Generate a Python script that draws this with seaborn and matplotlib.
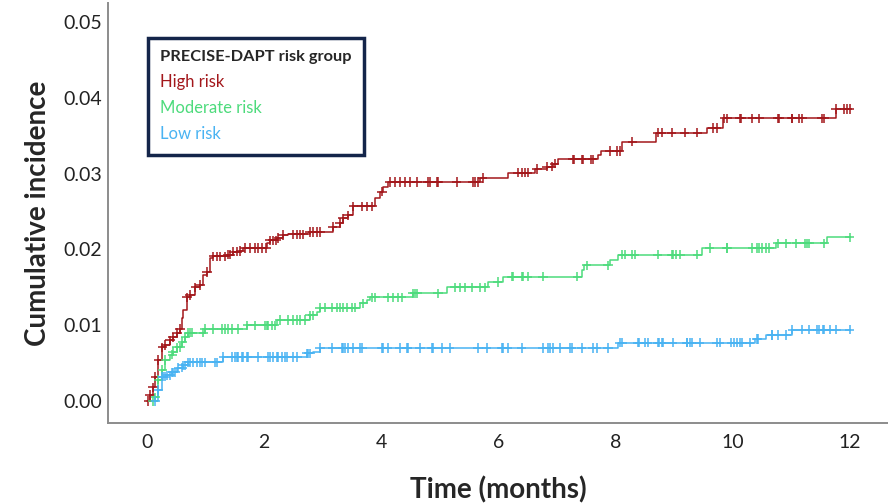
import numpy as np
import pandas as pd
import matplotlib
matplotlib.use("Agg")
import matplotlib.pyplot as plt
import seaborn as sns

# ------------------------------------------------------------------
# DATA (read off the reference Kaplan-Meier style cumulative incidence)
# ------------------------------------------------------------------
groups = ["High risk", "Moderate risk", "Low risk"]
colors = ["#a3171b", "#4ddb7c", "#49b3f2"]

high_t = [0, 0.05, 0.10, 0.14, 0.19, 0.26, 0.31, 0.39, 0.44, 0.51, 0.56, 0.60,
          0.61, 0.68, 0.73, 0.82, 0.90, 0.96, 1.02, 1.08, 1.13, 1.38, 1.47, 1.59,
          1.64, 2.05, 2.10, 2.22, 2.32, 2.41, 2.78, 3.17, 3.29, 3.34, 3.43, 3.52,
          3.89, 3.98, 4.03, 4.11, 5.68, 6.16, 6.62, 6.83, 6.93, 7.01, 7.70, 7.76,
          8.12, 8.70, 9.56, 9.83, 11.77, 12.0]
high_v = [0, 0.0008, 0.0018, 0.0032, 0.0054, 0.0071, 0.0074, 0.0080, 0.0084, 0.0090,
          0.0095, 0.0109, 0.0120, 0.0137, 0.0140, 0.0150, 0.0153, 0.0166, 0.0170,
          0.0189, 0.0191, 0.0193, 0.0197, 0.0198, 0.0202, 0.0208, 0.0212, 0.0215,
          0.0219, 0.0220, 0.0223, 0.0230, 0.0235, 0.0241, 0.0245, 0.0257, 0.0268,
          0.0276, 0.0282, 0.0289, 0.0294, 0.0301, 0.0306, 0.0309, 0.0313, 0.0319,
          0.0325, 0.0330, 0.0342, 0.0354, 0.0360, 0.0373, 0.0385, 0.0385]

mod_t = [0.07, 0.14, 0.19, 0.26, 0.31, 0.39, 0.44, 0.51, 0.60, 0.65, 0.70, 0.99,
         1.71, 2.22, 2.78, 2.90, 2.95, 3.63, 3.75, 3.81, 4.54, 5.12, 5.82, 6.08,
         7.42, 7.47, 7.90, 8.04, 9.47, 10.75, 11.62, 12.0]
mod_v = [0, 0.0005, 0.0028, 0.0041, 0.0054, 0.0061, 0.0065, 0.0071, 0.0078, 0.0084,
         0.0090, 0.0095, 0.0100, 0.0107, 0.0113, 0.0117, 0.0123, 0.0129, 0.0133,
         0.0137, 0.0142, 0.0150, 0.0157, 0.0164, 0.0173, 0.0179, 0.0186, 0.0193,
         0.0202, 0.0208, 0.0216, 0.0216]

low_t = [0.10, 0.19, 0.26, 0.34, 0.43, 0.51, 0.61, 0.70, 1.30, 2.73, 2.83, 2.95,
         8.04, 10.38, 10.58, 11.01, 12.0]
low_v = [0, 0.0015, 0.0032, 0.0034, 0.0038, 0.0044, 0.0047, 0.0051, 0.0058, 0.0063,
         0.0065, 0.0070, 0.0077, 0.0082, 0.0087, 0.0094, 0.0094]

# censoring times (the "+" ticks on each curve)
high_cens = [0.02, 0.05, 0.10, 0.14, 0.19, 0.26, 0.31, 0.39, 0.44, 0.51, 0.56, 0.68,
             0.73, 0.82, 0.90, 1.02, 1.13, 1.19, 1.25, 1.33, 1.38, 1.42, 1.47, 1.54,
             1.59, 1.67, 1.76, 1.84, 1.89, 1.96, 2.03, 2.10, 2.15, 2.20, 2.24, 2.32,
             2.49, 2.56, 2.61, 2.66, 2.78, 2.83, 2.90, 2.95, 3.17, 3.29, 3.34, 3.43,
             3.52, 3.67, 3.75, 3.84, 4.01, 4.15, 4.23, 4.32, 4.40, 4.49, 4.61, 4.80,
             4.83, 4.95, 4.97, 5.29, 5.56, 5.60, 5.65, 5.73, 6.33, 6.40, 6.45, 6.50,
             6.66, 6.83, 6.91, 6.96, 7.27, 7.30, 7.42, 7.44, 7.59, 7.61, 7.90, 8.02,
             8.07, 8.29, 8.72, 8.79, 8.96, 9.18, 9.40, 9.66, 9.73, 9.86, 9.91, 10.12,
             10.15, 10.34, 10.46, 10.77, 10.80, 11.01, 11.02, 11.14, 11.19, 11.52,
             11.57, 11.77, 11.91, 11.96, 12.0]
mod_cens = [0.10, 0.14, 0.19, 0.26, 0.31, 0.43, 0.44, 0.51, 0.56, 0.60, 0.65, 0.70,
            0.73, 0.77, 0.96, 0.99, 1.13, 1.28, 1.33, 1.38, 1.45, 1.55, 1.71, 1.84,
            2.01, 2.05, 2.06, 2.13, 2.18, 2.27, 2.41, 2.49, 2.56, 2.61, 2.70, 2.78,
            2.83, 2.95, 3.04, 3.16, 3.24, 3.29, 3.34, 3.41, 3.50, 3.55, 3.69, 3.84,
            3.89, 4.11, 4.20, 4.28, 4.35, 4.54, 4.57, 4.61, 4.97, 5.26, 5.34, 5.43,
            5.55, 5.68, 5.77, 5.99, 6.23, 6.25, 6.40, 6.42, 6.50, 6.76, 7.35, 7.51,
            7.87, 8.12, 8.16, 8.29, 8.33, 8.72, 8.96, 8.98, 9.04, 9.10, 9.40, 9.61,
            9.90, 9.91, 10.34, 10.41, 10.46, 10.51, 10.58, 10.63, 10.77, 10.92,
            11.09, 11.23, 11.28, 11.31, 11.57, 12.0]
low_cens = [0.14, 0.19, 0.26, 0.27, 0.31, 0.34, 0.39, 0.43, 0.44, 0.48, 0.53, 0.60,
            0.61, 0.65, 0.70, 0.73, 0.78, 0.85, 0.90, 0.94, 0.99, 1.16, 1.19, 1.30,
            1.45, 1.50, 1.54, 1.55, 1.62, 1.64, 1.71, 1.72, 1.89, 2.06, 2.10, 2.15,
            2.22, 2.24, 2.30, 2.35, 2.39, 2.49, 2.56, 2.73, 2.75, 2.78, 2.95, 3.16,
            3.33, 3.34, 3.38, 3.43, 3.52, 3.63, 3.67, 4.01, 4.03, 4.11, 4.32, 4.44,
            4.45, 4.66, 4.86, 4.88, 5.03, 5.17, 5.65, 5.80, 6.06, 6.08, 6.16, 6.40,
            6.76, 6.84, 6.88, 6.93, 7.05, 7.22, 7.25, 7.42, 7.61, 7.68, 7.87, 8.07,
            8.12, 8.38, 8.41, 8.50, 8.55, 8.72, 8.75, 8.79, 8.81, 8.98, 9.22, 9.23,
            9.27, 9.30, 9.44, 9.73, 9.78, 9.98, 10.03, 10.07, 10.12, 10.17, 10.29,
            10.41, 10.43, 10.67, 10.68, 10.77, 10.92, 11.02, 11.18, 11.31, 11.45,
            11.48, 11.54, 11.57, 11.66, 11.77, 12.0]

y_ticks = [0.00, 0.01, 0.02, 0.03, 0.04, 0.05]
x_ticks = [0, 2, 4, 6, 8, 10, 12]

# ------------------------------------------------------------------
# BUILD LONG TABLES
# ------------------------------------------------------------------
curves = pd.concat([
    pd.DataFrame({"time": t, "inc": v, "group": g})
    for t, v, g in [(high_t, high_v, groups[0]), (mod_t, mod_v, groups[1]), (low_t, low_v, groups[2])]
], ignore_index=True)


def step_value(times, vals, at):
    idx = np.searchsorted(np.asarray(times), np.asarray(at), side="right") - 1
    return np.asarray(vals)[np.clip(idx, 0, None)]


cens = pd.concat([
    pd.DataFrame({"time": c, "inc": step_value(t, v, c), "group": g})
    for t, v, c, g in [(high_t, high_v, high_cens, groups[0]),
                       (mod_t, mod_v, mod_cens, groups[1]),
                       (low_t, low_v, low_cens, groups[2])]
], ignore_index=True)

palette = dict(zip(groups, colors))

# ------------------------------------------------------------------
# PLOT
# ------------------------------------------------------------------
sns.set_theme(style="white")
plt.rcParams["font.family"] = ["Lato", "DejaVu Sans"]

fig = plt.figure(figsize=(8.88, 5.03), dpi=100)
ax = fig.add_axes([0.1216, 0.159, 0.878, 0.835])

sns.lineplot(data=curves, x="time", y="inc", hue="group", palette=palette,
             estimator=None, sort=False, drawstyle="steps-post", linewidth=1.1,
             legend=False, ax=ax)
sns.scatterplot(data=cens, x="time", y="inc", hue="group", palette=palette,
                marker="+", s=45, linewidth=1.1, legend=False, ax=ax, zorder=3)

ax.set_xlim(-0.67, 12.65)
ax.set_ylim(-0.0029, 0.0525)
ax.set_xticks(x_ticks)
ax.set_yticks(y_ticks)
ax.set_yticklabels([f"{v:.2f}" for v in y_ticks])
ax.tick_params(length=0, labelsize=14, labelcolor="#222222")
ax.tick_params(axis="x", pad=8)
ax.tick_params(axis="y", pad=4)

for side in ["top", "right"]:
    ax.spines[side].set_visible(False)
for side in ["left", "bottom"]:
    ax.spines[side].set_color("#8c8c8c")
    ax.spines[side].set_linewidth(1.4)

ax.set_xlabel("Time (months)", fontsize=20, fontweight="bold", labelpad=18)
ax.set_ylabel("Cumulative incidence", fontsize=20, fontweight="bold", labelpad=9)

# legend: text-only entries inside a navy box
handles = [plt.Line2D([], [], linestyle="none") for _ in groups]
leg = ax.legend(handles, groups, title="PRECISE-DAPT risk group",
                loc="upper left", bbox_to_anchor=(0.051, 0.917), borderaxespad=0,
                handlelength=0, handletextpad=0, fancybox=False, frameon=True,
                framealpha=1, fontsize=12, title_fontsize=11.8, alignment="left",
                borderpad=0.75, labelspacing=0.6)
leg.get_title().set_fontweight("bold")
leg.get_frame().set_edgecolor("#14254a")
leg.get_frame().set_linewidth(2.5)
for txt, c in zip(leg.get_texts(), colors):
    txt.set_color(c)

fig.savefig("out.png", dpi=100)
